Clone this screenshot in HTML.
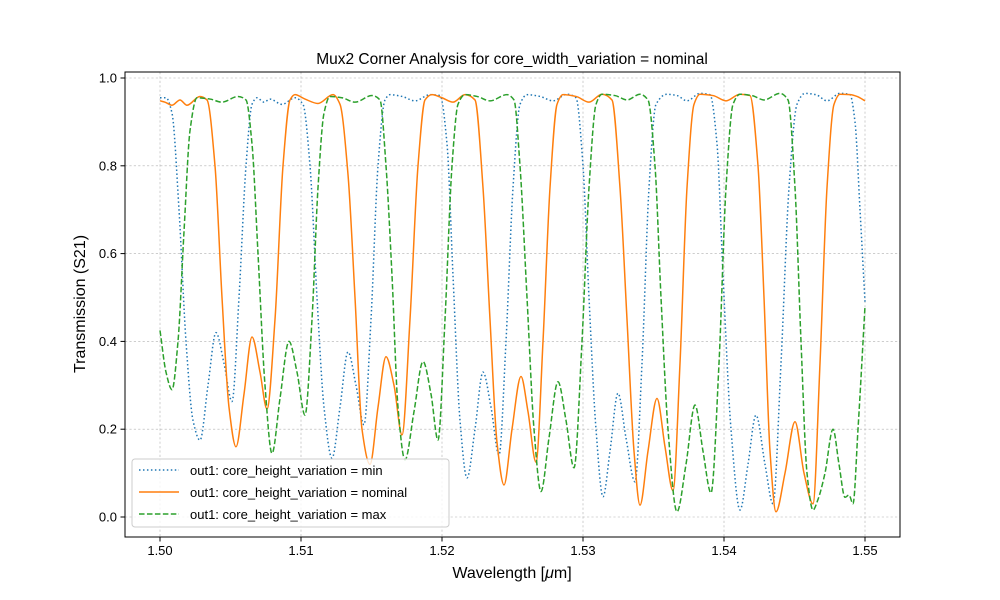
<!DOCTYPE html>
<html><head><meta charset="utf-8"><style>
html,body{margin:0;padding:0;background:#fff;}
svg{display:block;font-family:"Liberation Sans","DejaVu Sans",sans-serif;}
</style></head><body>
<svg id="s" width="1000" height="600" viewBox="0 0 1000 600" xmlns="http://www.w3.org/2000/svg">
<rect width="1000" height="600" fill="#fff"/>
<g id="grid" stroke="#b0b0b0" stroke-width="0.6" stroke-dasharray="2.2,2.2"></g>
<g id="curves" fill="none"></g>
<rect x="125" y="72" width="775" height="465" fill="none" stroke="#000" stroke-width="1"/>
<g id="ticks" stroke="#000" stroke-width="1"></g>
<g id="labels" font-size="13" fill="#000"></g>
<text x="512" y="64" font-size="15.5" text-anchor="middle">Mux2 Corner Analysis for core_width_variation = nominal</text>
<text x="512" y="578" font-size="16" text-anchor="middle">Wavelength [<tspan font-style="italic">μ</tspan>m]</text>
<text transform="translate(85,304) rotate(-90)" font-size="16" text-anchor="middle">Transmission (S21)</text>
<g>
<rect x="132" y="459" width="317" height="68" rx="3" fill="#fff" fill-opacity="0.8" stroke="#ccc" stroke-width="1"/>
<line x1="139" y1="470" x2="179" y2="470" stroke="#1f77b4" stroke-width="1.5" stroke-dasharray="1.5,2.475"/>
<line x1="139" y1="492" x2="179" y2="492" stroke="#ff7f0e" stroke-width="1.5"/>
<line x1="139" y1="514" x2="179" y2="514" stroke="#2ca02c" stroke-width="1.5" stroke-dasharray="5.55,2.4"/>
<text x="190" y="475" font-size="13">out1: core_height_variation = min</text>
<text x="190" y="497" font-size="13">out1: core_height_variation = nominal</text>
<text x="190" y="519" font-size="13">out1: core_height_variation = max</text>
</g>
</svg>
<script>
var NS="http://www.w3.org/2000/svg";
function Y(v){return 517-v*439;}
function el(t,a,p){var e=document.createElementNS(NS,t);for(var k in a)e.setAttribute(k,a[k]);document.getElementById(p).appendChild(e);return e;}
var xt=[[160,"1.50"],[301,"1.51"],[442,"1.52"],[583,"1.53"],[724,"1.54"],[865,"1.55"]];
xt.forEach(function(t){el("line",{x1:t[0],y1:72,x2:t[0],y2:537},"grid");el("line",{x1:t[0],y1:537,x2:t[0],y2:541.5},"ticks");
var tx=el("text",{x:t[0],y:555,"text-anchor":"middle"},"labels");tx.textContent=t[1];});
[0,0.2,0.4,0.6,0.8,1.0].forEach(function(v){var y=Y(v);el("line",{x1:125,y1:y,x2:900,y2:y},"grid");el("line",{x1:120.5,y1:y,x2:125,y2:y},"ticks");
var tx=el("text",{x:117,y:y+4.5,"text-anchor":"end"},"labels");tx.textContent=v.toFixed(1);});
function path(p){
var n=p.length,x=p.map(function(q){return q[0];}),y=p.map(function(q){return Y(q[1]);});
var d=[],m=[];for(var i=0;i<n-1;i++)d.push((y[i+1]-y[i])/(x[i+1]-x[i]));
m[0]=d[0];m[n-1]=d[n-2];
for(i=1;i<n-1;i++){if(d[i-1]*d[i]<=0)m[i]=0;else{var w1=2*(x[i+1]-x[i])+(x[i]-x[i-1]),w2=(x[i+1]-x[i])+2*(x[i]-x[i-1]);m[i]=(w1+w2)/(w1/d[i-1]+w2/d[i]);}}
var s="M"+x[0]+","+y[0].toFixed(2);
for(i=0;i<n-1;i++){var h=x[i+1]-x[i];
s+=" C"+(x[i]+h/3).toFixed(2)+","+(y[i]+m[i]*h/3).toFixed(2)+" "+(x[i+1]-h/3).toFixed(2)+","+(y[i+1]-m[i+1]*h/3).toFixed(2)+" "+x[i+1]+","+y[i+1].toFixed(2);}
return s;}
var blue=[[160,.955],[166,.955],[172,.92],[179,.7],[186,.4],[193,.22],[200,.175],[208,.3],[216,.42],[224,.35],[232,.263],[239,.5],[246,.8],[252,.94],[257,.955],[264,.945],[270,.952],[282,.94],[295,.955],[303,.94],[310,.8],[317,.5],[324,.25],[332,.134],[340,.25],[348,.376],[356,.3],[364,.21],[371,.45],[378,.8],[385,.95],[390,.962],[402,.958],[415,.948],[430,.962],[440,.96],[447,.85],[453,.55],[460,.22],[467,.089],[475,.2],[483,.33],[491,.25],[499,.141],[506,.4],[513,.75],[520,.94],[527,.962],[540,.958],[553,.948],[567,.963],[576,.955],[583,.8],[589,.5],[596,.2],[603,.046],[610,.15],[618,.282],[626,.18],[635,.08],[642,.35],[649,.75],[656,.94],[667,.963],[677,.96],[687,.948],[700,.965],[710,.962],[717,.85],[723,.55],[731,.2],[740,.016],[748,.12],[756,.232],[765,.12],[773,.03],[781,.35],[789,.75],[797,.94],[805,.965],[816,.962],[827,.948],[840,.965],[850,.962],[855,.9],[860,.7],[865,.49]];
var orange=[[160,.948],[165,.945],[172,.938],[180,.95],[187,.938],[200,.958],[207,.95],[215,.8],[222,.5],[229,.25],[236,.16],[244,.28],[252,.41],[260,.33],[267,.246],[275,.45],[283,.8],[290,.95],[295,.962],[305,.952],[318,.942],[333,.962],[340,.94],[348,.78],[355,.5],[362,.2],[370,.12],[378,.25],[386,.365],[394,.3],[402,.187],[410,.45],[418,.8],[425,.95],[432,.962],[442,.955],[453,.945],[465,.962],[475,.95],[483,.75],[490,.45],[497,.17],[504,.073],[512,.2],[521,.32],[528,.24],[536,.125],[543,.4],[550,.75],[557,.94],[563,.962],[576,.958],[589,.945],[602,.963],[612,.95],[620,.75],[627,.45],[634,.15],[640,.027],[648,.15],[657,.27],[665,.16],[673,.06],[680,.35],[687,.75],[694,.94],[700,.963],[713,.96],[726,.948],[740,.963],[750,.96],[758,.8],[764,.5],[770,.15],[776,.012],[785,.1],[795,.217],[804,.1],[813,.03],[820,.35],[827,.75],[834,.94],[840,.963],[850,.962],[857,.958],[865,.948]];
var green=[[160,.425],[166,.33],[172,.29],[178,.4],[184,.65],[190,.88],[197,.955],[210,.952],[222,.945],[238,.958],[246,.95],[252,.85],[258,.6],[265,.3],[272,.145],[280,.27],[289,.4],[297,.33],[305,.232],[312,.45],[318,.75],[324,.92],[330,.958],[342,.955],[355,.945],[372,.96],[380,.95],[386,.8],[392,.55],[398,.25],[405,.13],[414,.24],[423,.354],[431,.28],[438,.175],[445,.45],[452,.8],[458,.94],[465,.962],[477,.958],[490,.948],[507,.962],[514,.95],[520,.8],[527,.5],[534,.2],[541,.058],[549,.18],[558,.308],[566,.22],[574,.112],[582,.4],[589,.75],[596,.94],[602,.963],[615,.96],[627,.95],[640,.963],[648,.95],[655,.8],[661,.5],[668,.2],[677,.012],[686,.12],[695,.255],[703,.15],[711,.055],[719,.35],[726,.75],[733,.94],[740,.963],[752,.96],[764,.95],[780,.965],[788,.95],[795,.75],[801,.4],[807,.1],[813,.016],[818,.04],[825,.1],[833,.2],[839,.12],[845,.045],[849,.05],[853,.03],[858,.2],[865,.48]];
el("path",{d:path(blue),stroke:"#1f77b4","stroke-width":1.5,"stroke-dasharray":"1.5,2.475"},"curves");
el("path",{d:path(orange),stroke:"#ff7f0e","stroke-width":1.5},"curves");
el("path",{d:path(green),stroke:"#2ca02c","stroke-width":1.5,"stroke-dasharray":"5.55,2.4"},"curves");
</script>
</body></html>
